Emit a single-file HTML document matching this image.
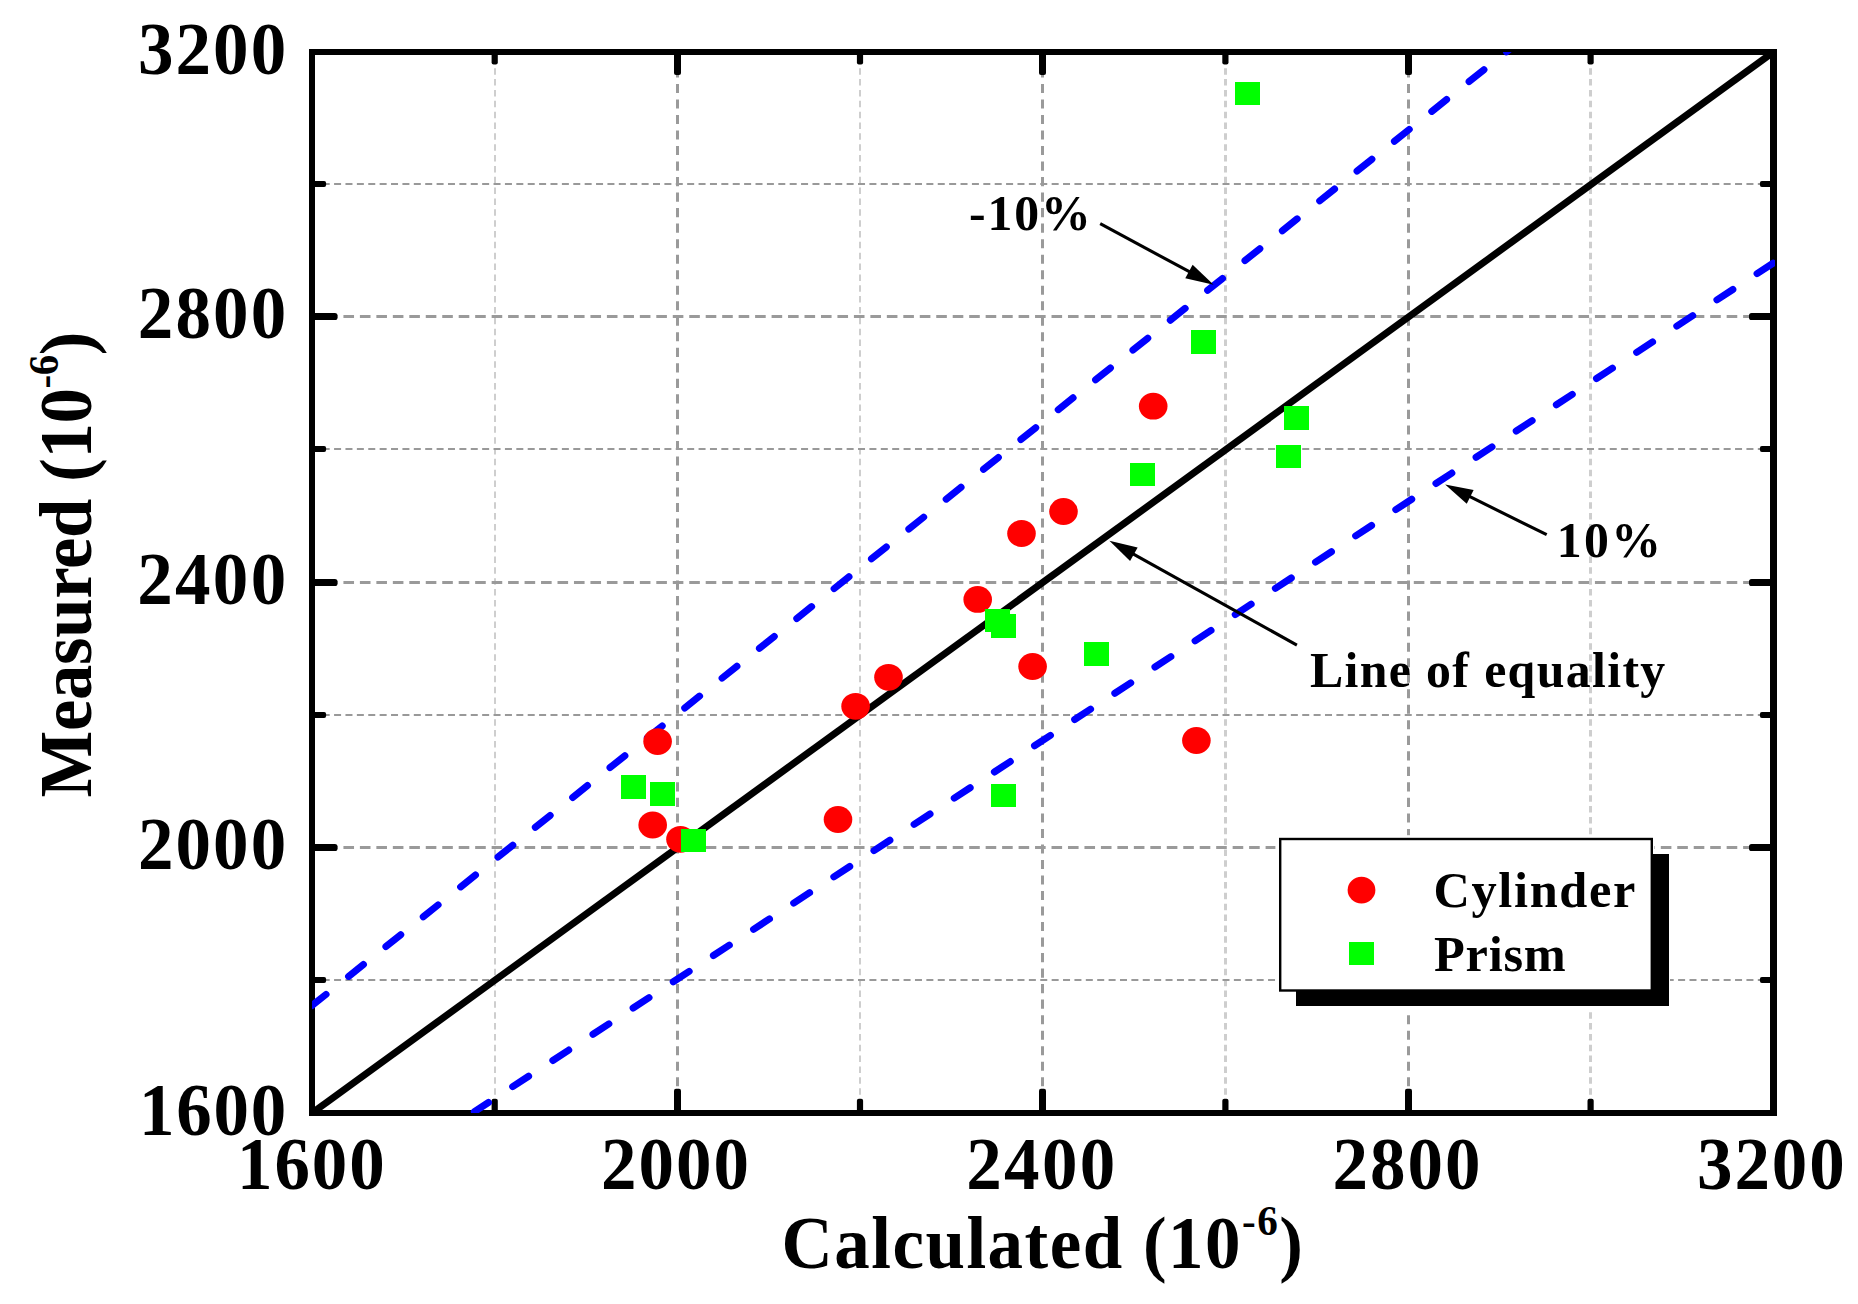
<!DOCTYPE html>
<html lang="en"><head><meta charset="utf-8">
<title>Measured vs Calculated</title>
<style>
html,body{margin:0;padding:0;background:#fff;}
body{width:1858px;height:1304px;overflow:hidden;}
svg{display:block;}
text{font-family:"Liberation Serif", serif;font-weight:bold;fill:#000;}
</style></head><body>
<svg width="1858" height="1304" viewBox="0 0 1858 1304">
<rect x="0" y="0" width="1858" height="1304" fill="#fff"/>
<defs><clipPath id="plot"><rect x="312" y="52" width="1463" height="1061"/></clipPath></defs>
<g fill="none">
<line x1="495" y1="57.4" x2="495" y2="1113" stroke="#cecece" stroke-width="2" stroke-dasharray="6.5 4.35"/>
<line x1="860" y1="57.4" x2="860" y2="1113" stroke="#cecece" stroke-width="2" stroke-dasharray="6.5 4.35"/>
<line x1="1225.5" y1="57.4" x2="1225.5" y2="1113" stroke="#cecece" stroke-width="3" stroke-dasharray="6.5 4.35"/>
<line x1="1590.5" y1="57.4" x2="1590.5" y2="1113" stroke="#cecece" stroke-width="3" stroke-dasharray="6.5 4.35"/>
<line x1="311.3" y1="980" x2="1773.5" y2="980" stroke="#999999" stroke-width="2" stroke-dasharray="7 4.39"/>
<line x1="311.3" y1="715" x2="1773.5" y2="715" stroke="#999999" stroke-width="2" stroke-dasharray="7 4.39"/>
<line x1="311.3" y1="449" x2="1773.5" y2="449" stroke="#999999" stroke-width="2" stroke-dasharray="7 4.39"/>
<line x1="311.3" y1="184" x2="1773.5" y2="184" stroke="#999999" stroke-width="2" stroke-dasharray="7 4.39"/>
<line x1="677.5" y1="52.9" x2="677.5" y2="1113" stroke="#9a9a9a" stroke-width="3" stroke-dasharray="9.1 6.42"/>
<line x1="1042.5" y1="52.9" x2="1042.5" y2="1113" stroke="#9a9a9a" stroke-width="3" stroke-dasharray="9.1 6.42"/>
<line x1="1408.5" y1="52.9" x2="1408.5" y2="1113" stroke="#9a9a9a" stroke-width="3" stroke-dasharray="9.1 6.42"/>
<line x1="310.5" y1="847.5" x2="1773.5" y2="847.5" stroke="#9a9a9a" stroke-width="3" stroke-dasharray="10.6 5.867"/>
<line x1="310.5" y1="582.5" x2="1773.5" y2="582.5" stroke="#9a9a9a" stroke-width="3" stroke-dasharray="10.6 5.867"/>
<line x1="310.5" y1="316.5" x2="1773.5" y2="316.5" stroke="#9a9a9a" stroke-width="3" stroke-dasharray="10.6 5.867"/>
</g>
<g fill="#000">
<rect x="309" y="49" width="1468" height="6"/>
<rect x="309" y="1110" width="1468" height="6"/>
<rect x="309" y="49" width="6" height="1067"/>
<rect x="1770" y="49" width="7" height="1067"/>
</g>
<g fill="#000">
<rect x="491.6" y="1098.8" width="6.2" height="14.2" rx="2"/>
<rect x="491.6" y="52" width="6.2" height="12.6" rx="2"/>
<rect x="312" y="977" width="14.1" height="6" rx="2"/>
<rect x="1759.9" y="977" width="13.1" height="6" rx="2"/>
<rect x="674" y="1088.7" width="7" height="24.3" rx="2"/>
<rect x="674" y="52" width="7" height="23" rx="2"/>
<rect x="312" y="844" width="25.5" height="7" rx="2.6"/>
<rect x="1749" y="844" width="24" height="7" rx="2.6"/>
<rect x="856.9" y="1098.8" width="6.2" height="14.2" rx="2"/>
<rect x="856.9" y="52" width="6.2" height="12.6" rx="2"/>
<rect x="312" y="712" width="14.1" height="6" rx="2"/>
<rect x="1759.9" y="712" width="13.1" height="6" rx="2"/>
<rect x="1039" y="1088.7" width="7" height="24.3" rx="2"/>
<rect x="1039" y="52" width="7" height="23" rx="2"/>
<rect x="312" y="579" width="25.5" height="7" rx="2.6"/>
<rect x="1749" y="579" width="24" height="7" rx="2.6"/>
<rect x="1222.3" y="1098.8" width="6.2" height="14.2" rx="2"/>
<rect x="1222.3" y="52" width="6.2" height="12.6" rx="2"/>
<rect x="312" y="446" width="14.1" height="6" rx="2"/>
<rect x="1759.9" y="446" width="13.1" height="6" rx="2"/>
<rect x="1405" y="1088.7" width="7" height="24.3" rx="2"/>
<rect x="1405" y="52" width="7" height="23" rx="2"/>
<rect x="312" y="313" width="25.5" height="7" rx="2.6"/>
<rect x="1749" y="313" width="24" height="7" rx="2.6"/>
<rect x="1587.5" y="1098.8" width="6.2" height="14.2" rx="2"/>
<rect x="1587.5" y="52" width="6.2" height="12.6" rx="2"/>
<rect x="312" y="181" width="14.1" height="6" rx="2"/>
<rect x="1759.9" y="181" width="13.1" height="6" rx="2"/>
</g>
<g clip-path="url(#plot)" fill="none">
<line x1="306" y1="1117.36" x2="1779.5" y2="47.64" stroke="#000" stroke-width="7"/>
<line x1="312" y1="1005.6" x2="1526.04" y2="36.11" stroke="#0000ff" stroke-width="7" stroke-linecap="round" stroke-dasharray="19 28.8" stroke-dashoffset="1"/>
<line x1="474.39" y1="1111.7" x2="1791.77" y2="250.96" stroke="#0000ff" stroke-width="7" stroke-linecap="round" stroke-dasharray="19 28.95" stroke-dashoffset="2.2"/>
</g>
<g fill="#ff0000">
<ellipse cx="657.6" cy="741.6" rx="14.3" ry="13.4"/>
<ellipse cx="652.7" cy="825" rx="14.3" ry="13.4"/>
<ellipse cx="680.5" cy="839.3" rx="14.3" ry="13.4"/>
<ellipse cx="838" cy="819.5" rx="14.3" ry="13.4"/>
<ellipse cx="855.6" cy="706.3" rx="14.3" ry="13.4"/>
<ellipse cx="888.5" cy="677.3" rx="14.3" ry="13.4"/>
<ellipse cx="977.7" cy="599.4" rx="14.3" ry="13.4"/>
<ellipse cx="1021.5" cy="533.5" rx="14.3" ry="13.4"/>
<ellipse cx="1063.5" cy="511.5" rx="14.3" ry="13.4"/>
<ellipse cx="1032.6" cy="666.5" rx="14.3" ry="13.4"/>
<ellipse cx="1196.4" cy="740.5" rx="14.3" ry="13.4"/>
<ellipse cx="1153.2" cy="406.2" rx="14.3" ry="13.4"/>
</g>
<g fill="#00ff00" shape-rendering="crispEdges">
<rect x="620.7" y="775.35" width="25" height="23.5"/>
<rect x="650" y="782.15" width="25" height="23.5"/>
<rect x="681.1" y="828.65" width="25" height="23.5"/>
<rect x="985.1" y="608.55" width="25" height="23.5"/>
<rect x="990.9" y="614.25" width="25" height="23.5"/>
<rect x="1084" y="642.25" width="25" height="23.5"/>
<rect x="1129.7" y="462.75" width="25" height="23.5"/>
<rect x="990.9" y="783.65" width="25" height="23.5"/>
<rect x="1234.5" y="81.65" width="25" height="23.5"/>
<rect x="1191.1" y="330.15" width="25" height="23.5"/>
<rect x="1284" y="406.05" width="25" height="23.5"/>
<rect x="1275.5" y="444.55" width="25" height="23.5"/>
</g>
<line x1="1100.2" y1="223.7" x2="1190.71" y2="272.47" stroke="#000" stroke-width="3.1"/>
<polygon fill="#000" points="1213.6,284.8 1185.27,278.34 1192.63,264.7"/>
<line x1="1546.7" y1="534.7" x2="1468.4" y2="495.94" stroke="#000" stroke-width="3.1"/>
<polygon fill="#000" points="1445.1,484.4 1473.63,489.88 1466.75,503.77"/>
<line x1="1296.9" y1="645.1" x2="1132.12" y2="553.35" stroke="#000" stroke-width="3.1"/>
<polygon fill="#000" points="1109.4,540.7 1137.63,547.55 1130.09,561.09"/>
<text transform="translate(138.02 73.5) scale(0.97 1)" font-size="73.2" letter-spacing="2.1">3200</text>
<text transform="translate(137.74 338) scale(0.97 1)" font-size="73.2" letter-spacing="2.2">2800</text>
<text transform="translate(137.24 604) scale(0.97 1)" font-size="73.2" letter-spacing="2.37">2400</text>
<text transform="translate(137.94 869) scale(0.97 1)" font-size="73.2" letter-spacing="2.13">2000</text>
<text transform="translate(139.09 1134.5) scale(0.97 1)" font-size="73.2" letter-spacing="1.74">1600</text>
<text transform="translate(237.09 1189.1) scale(0.97 1)" font-size="73.2" letter-spacing="1.91">1600</text>
<text transform="translate(600.94 1189.1) scale(0.97 1)" font-size="73.2" letter-spacing="2.1">2000</text>
<text transform="translate(966.24 1189.1) scale(0.97 1)" font-size="73.2" letter-spacing="2.4">2400</text>
<text transform="translate(1332.44 1189.1) scale(0.97 1)" font-size="73.2" letter-spacing="2.1">2800</text>
<text transform="translate(1696.92 1189.1) scale(0.97 1)" font-size="73.2" letter-spacing="2.03">3200</text>
<text transform="translate(781.54 1268) scale(0.97 1)" font-size="73.2" letter-spacing="1.52">Calculated (10<tspan font-size="42.46" dy="-33.31">-6</tspan><tspan dy="33.31">)</tspan></text>
<text transform="translate(91.1 797.41) rotate(-90) scale(0.97 1)" font-size="73" letter-spacing="-0.41">Measured (10<tspan font-size="42.34" dy="-33.22">-6</tspan><tspan dy="33.22">)</tspan></text>
<text transform="translate(968.98 229.9) scale(1 1)" font-size="49.8" letter-spacing="1.9">-10%</text>
<text transform="translate(1556.72 557) scale(1 1)" font-size="49.8" letter-spacing="2.32">10%</text>
<text transform="translate(1309.95 687) scale(1 1)" font-size="49.8" letter-spacing="1.37">Line of equality</text>
<rect x="1275.4" y="835.2" width="379" height="158" fill="#fff"/>
<rect x="1294" y="853" width="376" height="156.5" fill="#fff"/>
<rect x="1296" y="854" width="373" height="152" fill="#000"/>
<rect x="1280.2" y="839" width="371.6" height="151.5" fill="#fff" stroke="#000" stroke-width="2.4"/>
<ellipse cx="1361.5" cy="890.1" rx="13.9" ry="13.3" fill="#ff0000"/>
<rect x="1349" y="942" width="25" height="23" fill="#00ff00" shape-rendering="crispEdges"/>
<text transform="translate(1433.41 907) scale(1 1)" font-size="50.4" letter-spacing="1.66">Cylinder</text>
<text transform="translate(1434.04 970.9) scale(1 1)" font-size="50.4" letter-spacing="0.74">Prism</text>
</svg>
</body></html>
